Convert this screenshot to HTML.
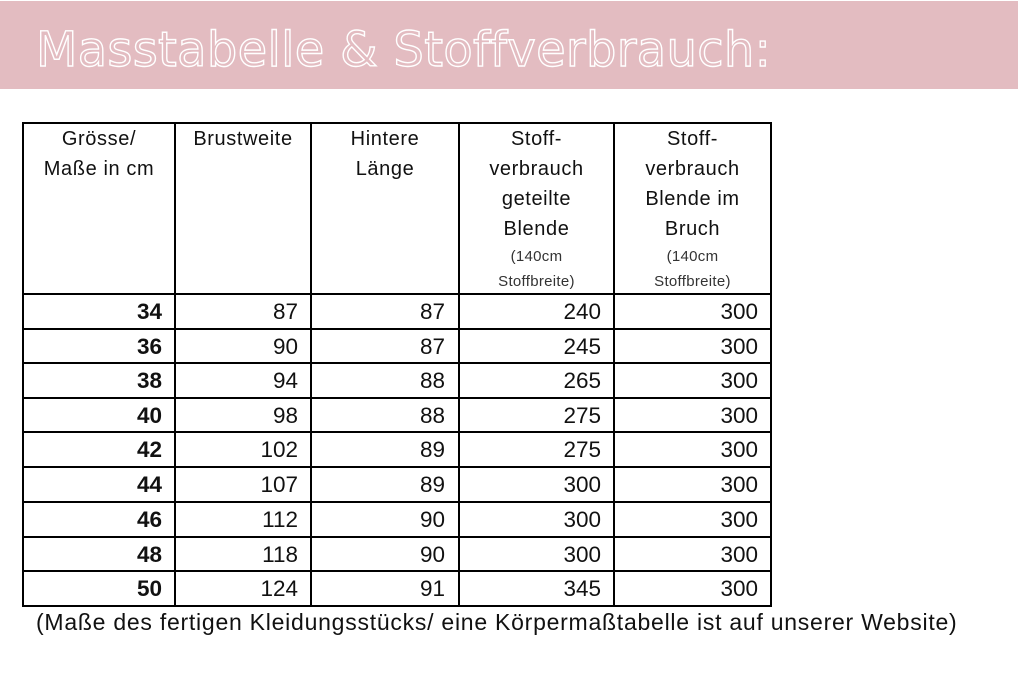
<!DOCTYPE html>
<html><head><meta charset="utf-8"><style>
*{margin:0;padding:0;box-sizing:border-box}
body{width:1035px;height:679px;background:#fff;position:relative;overflow:hidden;font-family:"Liberation Sans","DejaVu Sans",sans-serif;color:#111}
.banner{position:absolute;left:0;width:1018px;height:88px;background:#e3bcc1;top:1px}
.title{position:absolute;left:36px;top:22px;white-space:nowrap}
.h{position:absolute;background:#000}
.c{position:absolute;font-size:22.5px;text-align:right;line-height:34px}
.hd{position:absolute;font-size:20px;letter-spacing:0.6px;text-align:center;line-height:30px;top:124px}
.sm{font-size:15px;letter-spacing:0.3px;line-height:25px;display:block}
.foot{position:absolute;left:36px;top:609px;font-size:23px;letter-spacing:0.75px;white-space:nowrap}
</style></head><body>
<div class="banner"></div>
<div class="title" style="font-family:'DejaVu Sans',sans-serif;font-weight:normal;color:transparent;-webkit-text-stroke:1.4px #fff;font-size:48px;letter-spacing:0.3px">Masstabelle &amp; Stoffverbrauch:</div>
<div class="h" style="left:22px;top:123px;width:2px;height:484px"></div>
<div class="h" style="left:174px;top:123px;width:2px;height:484px"></div>
<div class="h" style="left:310px;top:123px;width:2px;height:484px"></div>
<div class="h" style="left:458px;top:123px;width:2px;height:484px"></div>
<div class="h" style="left:613px;top:123px;width:2px;height:484px"></div>
<div class="h" style="left:770px;top:123px;width:2px;height:484px"></div>
<div class="h" style="left:22px;top:122px;width:750px;height:2px"></div>
<div class="h" style="left:22px;top:293px;width:750px;height:2px"></div>
<div class="h" style="left:22px;top:328px;width:750px;height:2px"></div>
<div class="h" style="left:22px;top:362px;width:750px;height:2px"></div>
<div class="h" style="left:22px;top:397px;width:750px;height:2px"></div>
<div class="h" style="left:22px;top:431px;width:750px;height:2px"></div>
<div class="h" style="left:22px;top:466px;width:750px;height:2px"></div>
<div class="h" style="left:22px;top:501px;width:750px;height:2px"></div>
<div class="h" style="left:22px;top:536px;width:750px;height:2px"></div>
<div class="h" style="left:22px;top:570px;width:750px;height:2px"></div>
<div class="h" style="left:22px;top:605px;width:750px;height:2px"></div>
<div class="hd" style="left:24px;width:150px">Grösse/<br>Maße in cm</div>
<div class="hd" style="left:176px;width:134px">Brustweite</div>
<div class="hd" style="left:312px;width:146px">Hintere<br>Länge</div>
<div class="hd" style="left:460px;width:153px">Stoff-<br>verbrauch<br>geteilte<br>Blende<span class="sm" style="color:#333">(140cm<br>Stoffbreite)</span></div>
<div class="hd" style="left:615px;width:155px">Stoff-<br>verbrauch<br>Blende im<br>Bruch<span class="sm" style="color:#333">(140cm<br>Stoffbreite)</span></div>
<div id="rows"></div>
<script>
var d=[[34,87,87,240,300],[36,90,87,245,300],[38,94,88,265,300],[40,98,88,275,300],[42,102,89,275,300],[44,107,89,300,300],[46,112,90,300,300],[48,118,90,300,300],[50,124,91,345,300]];
var ys=[295,330,364,399,433,468,503,538,572];
var rs=[162,298,445,601,758];
var h='';
d.forEach(function(r,i){r.forEach(function(v,j){h+='<div class="c" style="top:'+ys[i]+'px;left:'+(rs[j]-120)+'px;width:120px;'+(j==0?'font-weight:bold':'')+'">'+v+'</div>';});});
document.getElementById('rows').innerHTML=h;
</script>
<div class="foot">(Maße des fertigen Kleidungsstücks/ eine Körpermaßtabelle ist auf unserer Website)</div>
</body></html>
